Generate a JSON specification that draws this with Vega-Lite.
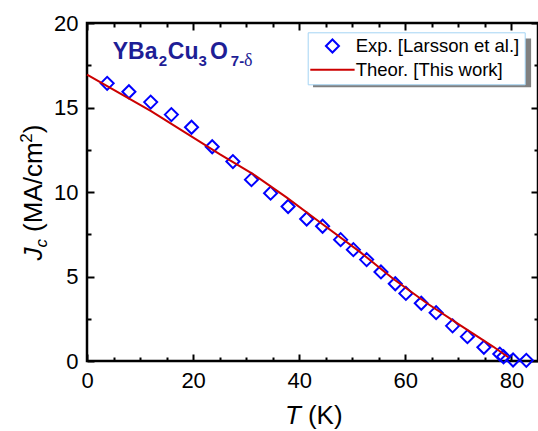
{
  "$schema": "https://vega.github.io/schema/vega-lite/v6.json",
  "width": 451,
  "height": 338,
  "autosize": {"type": "none"},
  "padding": {"left": 87, "top": 23, "right": 0, "bottom": 70},
  "background": "white",
  "config": {
    "view": {"stroke": "black", "strokeWidth": 2.5},
    "font": "Liberation Sans",
    "axis": {
      "domain": false,
      "grid": false,
      "title": null,
      "ticks": true,
      "zindex": 2,
      "tickColor": "black",
      "tickWidth": 2,
      "tickOpacity": 1,
      "labelFont": "Liberation Sans",
      "labelFontSize": 22,
      "labelColor": "black",
      "labelOverlap": false,
      "labelFlush": false,
      "labelBound": false
    }
  },
  "datasets": {
    "exp": [
      {"T": 3.8, "J": 16.43, "s": "Exp. [Larsson et al.]"},
      {"T": 7.9, "J": 15.93, "s": "Exp. [Larsson et al.]"},
      {"T": 12.0, "J": 15.32, "s": "Exp. [Larsson et al.]"},
      {"T": 15.9, "J": 14.58, "s": "Exp. [Larsson et al.]"},
      {"T": 19.7, "J": 13.83, "s": "Exp. [Larsson et al.]"},
      {"T": 23.6, "J": 12.68, "s": "Exp. [Larsson et al.]"},
      {"T": 27.5, "J": 11.8, "s": "Exp. [Larsson et al.]"},
      {"T": 31.0, "J": 10.73, "s": "Exp. [Larsson et al.]"},
      {"T": 34.6, "J": 9.93, "s": "Exp. [Larsson et al.]"},
      {"T": 37.9, "J": 9.14, "s": "Exp. [Larsson et al.]"},
      {"T": 41.4, "J": 8.4, "s": "Exp. [Larsson et al.]"},
      {"T": 44.4, "J": 7.97, "s": "Exp. [Larsson et al.]"},
      {"T": 47.8, "J": 7.18, "s": "Exp. [Larsson et al.]"},
      {"T": 50.2, "J": 6.59, "s": "Exp. [Larsson et al.]"},
      {"T": 52.7, "J": 6.0, "s": "Exp. [Larsson et al.]"},
      {"T": 55.4, "J": 5.27, "s": "Exp. [Larsson et al.]"},
      {"T": 58.1, "J": 4.57, "s": "Exp. [Larsson et al.]"},
      {"T": 60.1, "J": 4.0, "s": "Exp. [Larsson et al.]"},
      {"T": 63.0, "J": 3.42, "s": "Exp. [Larsson et al.]"},
      {"T": 65.8, "J": 2.86, "s": "Exp. [Larsson et al.]"},
      {"T": 68.9, "J": 2.08, "s": "Exp. [Larsson et al.]"},
      {"T": 71.7, "J": 1.44, "s": "Exp. [Larsson et al.]"},
      {"T": 74.8, "J": 0.81, "s": "Exp. [Larsson et al.]"},
      {"T": 77.8, "J": 0.41, "s": "Exp. [Larsson et al.]"},
      {"T": 78.5, "J": 0.25, "s": "Exp. [Larsson et al.]"},
      {"T": 80.3, "J": 0.06, "s": "Exp. [Larsson et al.]"},
      {"T": 82.8, "J": 0.04, "s": "Exp. [Larsson et al.]"}
    ],
    "theo": [
      {"T": 0, "J": 16.95, "s": "Theor. [This work]"},
      {"T": 12.0, "J": 14.8, "s": "Theor. [This work]"},
      {"T": 25.0, "J": 12.24, "s": "Theor. [This work]"},
      {"T": 31.3, "J": 11.06, "s": "Theor. [This work]"},
      {"T": 37.6, "J": 9.68, "s": "Theor. [This work]"},
      {"T": 43.9, "J": 8.21, "s": "Theor. [This work]"},
      {"T": 51.5, "J": 6.44, "s": "Theor. [This work]"},
      {"T": 57.7, "J": 4.87, "s": "Theor. [This work]"},
      {"T": 64.0, "J": 3.43, "s": "Theor. [This work]"},
      {"T": 70.3, "J": 2.12, "s": "Theor. [This work]"},
      {"T": 76.6, "J": 0.84, "s": "Theor. [This work]"},
      {"T": 79.4, "J": 0.22, "s": "Theor. [This work]"}
    ]
  },
  "layer": [
    {
      "data": {"values": [{}]},
      "mark": {"type": "rect", "color": "#808080"},
      "encoding": {
        "x": {"datum": 42.6, "type": "quantitative", "axis": null, "scale": {"domain": [0, 85], "nice": false}},
        "x2": {"datum": 83.7},
        "y": {"datum": 19.09, "type": "quantitative", "axis": null, "scale": {"domain": [0, 20], "nice": false}},
        "y2": {"datum": 16.2}
      }
    },
    {
      "data": {"name": "exp"},
      "mark": {"type": "point", "opacity": 0, "size": 1},
      "encoding": {
        "x": {
          "field": "T", "type": "quantitative",
          "scale": {"domain": [0, 85], "nice": false},
          "axis": {"orient": "bottom", "values": [5, 10, 15, 25, 30, 35, 45, 50, 55, 65, 70, 75], "offset": -4, "tickSize": 4, "labels": false}
        },
        "y": {
          "field": "J", "type": "quantitative",
          "scale": {"domain": [0, 20], "nice": false},
          "axis": {"orient": "left", "values": [2.5, 7.5, 12.5, 17.5], "offset": -4, "tickSize": 4, "labels": false}
        }
      }
    },
    {
      "data": {"name": "theo"},
      "mark": {"type": "line", "opacity": 0},
      "encoding": {
        "x": {
          "field": "T", "type": "quantitative",
          "scale": {"domain": [0, 85], "nice": false},
          "axis": {"orient": "top", "values": [5, 10, 15, 25, 30, 35, 45, 50, 55, 65, 70, 75], "offset": -4, "tickSize": 4, "labels": false}
        },
        "y": {
          "field": "J", "type": "quantitative",
          "scale": {"domain": [0, 20], "nice": false},
          "axis": {"orient": "right", "values": [2.5, 7.5, 12.5, 17.5], "offset": -4, "tickSize": 4, "labels": false}
        }
      }
    },
    {
      "data": {"name": "exp"},
      "mark": {"type": "point", "shape": "diamond", "filled": false, "strokeWidth": 2, "size": 170, "opacity": 1},
      "encoding": {
        "x": {
          "field": "T", "type": "quantitative",
          "scale": {"domain": [0, 85], "nice": false},
          "axis": {"orient": "bottom", "values": [0, 20, 40, 60, 80], "offset": -7, "tickSize": 7, "labelPadding": 9}
        },
        "y": {
          "field": "J", "type": "quantitative",
          "scale": {"domain": [0, 20], "nice": false},
          "axis": {"orient": "left", "values": [0, 5, 10, 15, 20], "offset": -7, "tickSize": 7, "labelPadding": 9}
        },
        "color": {
          "field": "s", "type": "nominal",
          "scale": {"domain": ["Exp. [Larsson et al.]", "Theor. [This work]"], "range": ["#0000ff", "#cc0000"]},
          "legend": {
            "title": null, "orient": "none", "legendX": 220.7, "legendY": 9.3,
            "padding": 4.5, "fillColor": "white", "strokeColor": "#a4d4f4",
            "labelFont": "Liberation Sans", "labelFontSize": 18.5, "labelColor": "black", "labelLimit": 0,
            "symbolSize": 170, "symbolStrokeWidth": 2, "rowPadding": 3.8, "labelOffset": 14, "symbolOffset": 11
          }
        },
        "shape": {
          "field": "s", "type": "nominal",
          "scale": {"domain": ["Exp. [Larsson et al.]", "Theor. [This work]"], "range": ["diamond", "M-3.4,0L3.4,0"]},
          "legend": {
            "title": null, "orient": "none", "legendX": 220.7, "legendY": 9.3,
            "padding": 4.5, "fillColor": "white", "strokeColor": "#a4d4f4",
            "labelFont": "Liberation Sans", "labelFontSize": 18.5, "labelColor": "black", "labelLimit": 0,
            "symbolSize": 170, "symbolStrokeWidth": 2, "rowPadding": 3.8, "labelOffset": 14, "symbolOffset": 11
          }
        }
      }
    },
    {
      "data": {"name": "theo"},
      "mark": {"type": "line", "strokeWidth": 2},
      "encoding": {
        "x": {
          "field": "T", "type": "quantitative",
          "scale": {"domain": [0, 85], "nice": false},
          "axis": {"orient": "top", "values": [0, 20, 40, 60, 80], "offset": -7, "tickSize": 7, "labels": false}
        },
        "y": {
          "field": "J", "type": "quantitative",
          "scale": {"domain": [0, 20], "nice": false},
          "axis": {"orient": "right", "values": [0, 5, 10, 15, 20], "offset": -7, "tickSize": 7, "labels": false}
        },
        "color": {"field": "s", "type": "nominal", "scale": {"domain": ["Exp. [Larsson et al.]", "Theor. [This work]"], "range": ["#0000ff", "#cc0000"]}}
      }
    },
    {
      "data": {"values": [{}]},
      "mark": {"type": "text", "text": "YBa", "font": "Liberation Sans", "fontSize": 23, "fontWeight": "bold", "color": "#1e1e96", "align": "left", "baseline": "alphabetic"},
      "encoding": {
        "x": {"datum": 4.85, "type": "quantitative", "axis": null, "scale": {"domain": [0, 85], "nice": false}},
        "y": {"datum": 17.85, "type": "quantitative", "axis": null, "scale": {"domain": [0, 20], "nice": false}}
      }
    },
    {
      "data": {"values": [{}]},
      "mark": {"type": "text", "text": "2", "font": "Liberation Sans", "fontSize": 15, "fontWeight": "bold", "color": "#1e1e96", "align": "left", "baseline": "alphabetic"},
      "encoding": {
        "x": {"datum": 13.53, "type": "quantitative", "axis": null, "scale": {"domain": [0, 85], "nice": false}},
        "y": {"datum": 17.44, "type": "quantitative", "axis": null, "scale": {"domain": [0, 20], "nice": false}}
      }
    },
    {
      "data": {"values": [{}]},
      "mark": {"type": "text", "text": "Cu", "font": "Liberation Sans", "fontSize": 23, "fontWeight": "bold", "color": "#1e1e96", "align": "left", "baseline": "alphabetic"},
      "encoding": {
        "x": {"datum": 15.23, "type": "quantitative", "axis": null, "scale": {"domain": [0, 85], "nice": false}},
        "y": {"datum": 17.85, "type": "quantitative", "axis": null, "scale": {"domain": [0, 20], "nice": false}}
      }
    },
    {
      "data": {"values": [{}]},
      "mark": {"type": "text", "text": "3", "font": "Liberation Sans", "fontSize": 15, "fontWeight": "bold", "color": "#1e1e96", "align": "left", "baseline": "alphabetic"},
      "encoding": {
        "x": {"datum": 21.0, "type": "quantitative", "axis": null, "scale": {"domain": [0, 85], "nice": false}},
        "y": {"datum": 17.44, "type": "quantitative", "axis": null, "scale": {"domain": [0, 20], "nice": false}}
      }
    },
    {
      "data": {"values": [{}]},
      "mark": {"type": "text", "text": "O", "font": "Liberation Sans", "fontSize": 23, "fontWeight": "bold", "color": "#1e1e96", "align": "left", "baseline": "alphabetic"},
      "encoding": {
        "x": {"datum": 23.2, "type": "quantitative", "axis": null, "scale": {"domain": [0, 85], "nice": false}},
        "y": {"datum": 17.85, "type": "quantitative", "axis": null, "scale": {"domain": [0, 20], "nice": false}}
      }
    },
    {
      "data": {"values": [{}]},
      "mark": {"type": "text", "text": "7-", "font": "Liberation Sans", "fontSize": 15, "fontWeight": "bold", "color": "#1e1e96", "align": "left", "baseline": "alphabetic"},
      "encoding": {
        "x": {"datum": 27.1, "type": "quantitative", "axis": null, "scale": {"domain": [0, 85], "nice": false}},
        "y": {"datum": 17.44, "type": "quantitative", "axis": null, "scale": {"domain": [0, 20], "nice": false}}
      }
    },
    {
      "data": {"values": [{}]},
      "mark": {"type": "text", "text": "δ", "font": "Liberation Serif", "fontSize": 18, "color": "#1e1e96", "align": "left", "baseline": "alphabetic"},
      "encoding": {
        "x": {"datum": 29.6, "type": "quantitative", "axis": null, "scale": {"domain": [0, 85], "nice": false}},
        "y": {"datum": 17.44, "type": "quantitative", "axis": null, "scale": {"domain": [0, 20], "nice": false}}
      }
    },
    {
      "data": {"values": [{}]},
      "mark": {"type": "text", "text": "T", "font": "Liberation Sans", "fontSize": 26, "fontStyle": "italic", "color": "black", "align": "left", "baseline": "alphabetic"},
      "encoding": {
        "x": {"datum": 37.3, "type": "quantitative", "axis": null, "scale": {"domain": [0, 85], "nice": false}},
        "y": {"datum": -3.71, "type": "quantitative", "axis": null, "scale": {"domain": [0, 20], "nice": false}}
      }
    },
    {
      "data": {"values": [{}]},
      "mark": {"type": "text", "text": "(K)", "font": "Liberation Sans", "fontSize": 26, "color": "black", "align": "left", "baseline": "alphabetic"},
      "encoding": {
        "x": {"datum": 41.64, "type": "quantitative", "axis": null, "scale": {"domain": [0, 85], "nice": false}},
        "y": {"datum": -3.71, "type": "quantitative", "axis": null, "scale": {"domain": [0, 20], "nice": false}}
      }
    },
    {
      "data": {"values": [{}]},
      "mark": {"type": "text", "text": "J", "font": "Liberation Sans", "fontSize": 26, "fontStyle": "italic", "color": "black", "align": "left", "baseline": "alphabetic", "angle": 270},
      "encoding": {
        "x": {"datum": -8.55, "type": "quantitative", "axis": null, "scale": {"domain": [0, 85], "nice": false}},
        "y": {"datum": 5.95, "type": "quantitative", "axis": null, "scale": {"domain": [0, 20], "nice": false}}
      }
    },
    {
      "data": {"values": [{}]},
      "mark": {"type": "text", "text": "c", "font": "Liberation Sans", "fontSize": 17, "fontStyle": "italic", "color": "black", "align": "left", "baseline": "alphabetic", "angle": 270},
      "encoding": {
        "x": {"datum": -7.6, "type": "quantitative", "axis": null, "scale": {"domain": [0, 85], "nice": false}},
        "y": {"datum": 6.72, "type": "quantitative", "axis": null, "scale": {"domain": [0, 20], "nice": false}}
      }
    },
    {
      "data": {"values": [{}]},
      "mark": {"type": "text", "text": "(MA/cm", "font": "Liberation Sans", "fontSize": 26, "color": "black", "align": "left", "baseline": "alphabetic", "angle": 270},
      "encoding": {
        "x": {"datum": -8.55, "type": "quantitative", "axis": null, "scale": {"domain": [0, 85], "nice": false}},
        "y": {"datum": 7.64, "type": "quantitative", "axis": null, "scale": {"domain": [0, 20], "nice": false}}
      }
    },
    {
      "data": {"values": [{}]},
      "mark": {"type": "text", "text": "2", "font": "Liberation Sans", "fontSize": 17, "color": "black", "align": "left", "baseline": "alphabetic", "angle": 270},
      "encoding": {
        "x": {"datum": -10.43, "type": "quantitative", "axis": null, "scale": {"domain": [0, 85], "nice": false}},
        "y": {"datum": 12.92, "type": "quantitative", "axis": null, "scale": {"domain": [0, 20], "nice": false}}
      }
    },
    {
      "data": {"values": [{}]},
      "mark": {"type": "text", "text": ")", "font": "Liberation Sans", "fontSize": 26, "color": "black", "align": "left", "baseline": "alphabetic", "angle": 270},
      "encoding": {
        "x": {"datum": -8.55, "type": "quantitative", "axis": null, "scale": {"domain": [0, 85], "nice": false}},
        "y": {"datum": 13.48, "type": "quantitative", "axis": null, "scale": {"domain": [0, 20], "nice": false}}
      }
    }
  ],
  "resolve": {"axis": {"x": "independent", "y": "independent"}}
}
